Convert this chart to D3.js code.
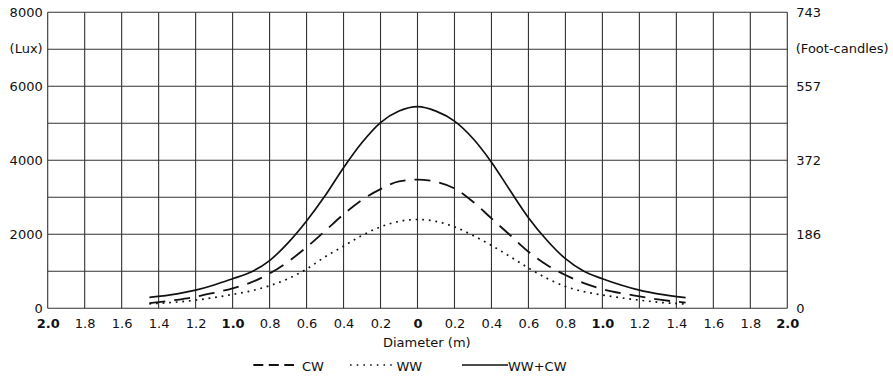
<!DOCTYPE html>
<html>
<head>
<meta charset="utf-8">
<script src="https://cdn.jsdelivr.net/npm/d3@7"></script>
<style>
  html, body { margin: 0; padding: 0; background: #fff; }
  svg { display: block; }
  text { font-family: "DejaVu Sans", Verdana, sans-serif; font-size: 13px; fill: #111; }
</style>
</head>
<body>
<svg id="chart" width="893" height="376"></svg>
<script>
// ---- data ----
const diameters = [-1.45, -1.3, -1.2, -1.1, -1.0, -0.9, -0.8, -0.7, -0.6, -0.5, -0.4, -0.3, -0.2, -0.1, 0,
                   0.1, 0.2, 0.3, 0.4, 0.5, 0.6, 0.7, 0.8, 0.9, 1.0, 1.1, 1.2, 1.3, 1.45];
const totalLux = [295, 390, 490, 630, 800, 980, 1290, 1770, 2360, 3040, 3800, 4480, 5020, 5330, 5450,
                  5330, 5060, 4590, 3950, 3190, 2450, 1840, 1340, 1000, 800, 630, 490, 390, 290];
const cwLux = [140, 230, 310, 420, 540, 700, 940, 1260, 1650, 2090, 2540, 2930, 3220, 3430, 3480,
               3420, 3240, 2880, 2430, 1980, 1530, 1170, 900, 680, 520, 410, 325, 240, 155];
const wwLux = [120, 170, 220, 290, 375, 470, 610, 800, 1060, 1390, 1680, 1970, 2200, 2350, 2400,
               2350, 2200, 1970, 1700, 1400, 1090, 810, 590, 450, 360, 285, 220, 165, 115];
const xTicks = [-2, -1.8, -1.6, -1.4, -1.2, -1, -0.8, -0.6, -0.4, -0.2, 0, 0.2, 0.4, 0.6, 0.8, 1, 1.2, 1.4, 1.6, 1.8, 2];
const boldTicks = [-2, -1, 0, 1, 2];
const luxTicks = [0, 2000, 4000, 6000, 8000];
const luxGrid = [0, 1000, 2000, 3000, 4000, 5000, 6000, 7000, 8000];
const fcTicks = [0, 186, 372, 557, 743];
const luxPerFc = 10.764;

// ---- layout ----
const svg = d3.select("#chart");
const x = d3.scaleLinear().domain([-2, 2]).range([47.7, 787.3]);
const y = d3.scaleLinear().domain([0, 8000]).range([308.3, 12.3]);
const yFc = d3.scaleLinear().domain([0, 8000 / luxPerFc]).range([308.3, 12.3]);

// grid
const grid = svg.append("g").attr("stroke", "#333").attr("stroke-width", 1.1).attr("fill", "none");
grid.selectAll("line.v").data(xTicks).join("line").attr("class", "v")
  .attr("x1", d => x(d)).attr("x2", d => x(d)).attr("y1", y(0)).attr("y2", y(8000));
grid.selectAll("line.h").data(luxGrid).join("line").attr("class", "h")
  .attr("x1", x(-2)).attr("x2", x(2)).attr("y1", d => y(d)).attr("y2", d => y(d));

// axes
const left = svg.append("g").attr("transform", `translate(${x(-2)},0)`)
  .call(d3.axisLeft(y).tickValues(luxTicks).tickSize(0).tickPadding(5).tickFormat(d3.format("d")));
left.select(".domain").remove();
svg.append("text").attr("x", x(-2) - 5).attr("y", y(7000)).attr("dy", "0.32em")
  .attr("text-anchor", "end").text("(Lux)");

const right = svg.append("g").attr("transform", `translate(${x(2)},0)`)
  .call(d3.axisRight(yFc).tickValues(fcTicks).tickSize(0).tickPadding(9).tickFormat(d3.format("d")));
right.select(".domain").remove();
svg.append("text").attr("x", x(2) + 8.5).attr("y", y(7000)).attr("dy", "0.32em")
  .attr("text-anchor", "start").text("(Foot-candles)");

const bottom = svg.append("g").attr("transform", `translate(0,${y(0)})`)
  .call(d3.axisBottom(x).tickValues(xTicks).tickSize(0).tickPadding(10)
    .tickFormat(d => d === 0 ? "0" : d3.format(".1f")(Math.abs(d))));
bottom.select(".domain").remove();
bottom.selectAll(".tick text")
  .style("font-weight", d => boldTicks.includes(d) ? "bold" : "normal");
svg.selectAll(".tick text").style("font-family", "DejaVu Sans, Verdana, sans-serif")
  .style("font-size", "13px").attr("fill", "#111");

svg.append("text").attr("x", 383).attr("y", 346.5).attr("text-anchor", "start").text("Diameter (m)");

// curves
const line = d3.line().curve(d3.curveMonotoneX);
const series = [
  { values: wwLux, dash: "1.8,4.8", width: 1.7 },
  { values: cwLux, dash: "16,9", width: 1.8 },
  { values: totalLux, dash: null, width: 1.7 }
];
svg.append("g").selectAll("path").data(series).join("path")
  .attr("d", s => line(diameters.map((dv, i) => [x(dv), y(s.values[i])])))
  .attr("fill", "none").attr("stroke", "#111")
  .attr("stroke-width", s => s.width)
  .attr("stroke-dasharray", s => s.dash);

// legend
const legendItems = [
  { label: "CW", x1: 253.3, x2: 294, tx: 302, dash: "10,5.5", width: 2 },
  { label: "WW", x1: 350, x2: 396.5, tx: 396.5, dash: "1.6,5.1", width: 1.7 },
  { label: "WW+CW", x1: 462, x2: 508, tx: 508, dash: null, width: 1.4 }
];
const lg = svg.append("g");
lg.selectAll("line").data(legendItems).join("line")
  .attr("x1", d => d.x1).attr("x2", d => d.x2).attr("y1", 365).attr("y2", 365)
  .attr("stroke", "#111").attr("stroke-width", d => d.width).attr("stroke-dasharray", d => d.dash);
lg.selectAll("text").data(legendItems).join("text")
  .attr("x", d => d.tx).attr("y", 371).text(d => d.label);
</script>
</body>
</html>
